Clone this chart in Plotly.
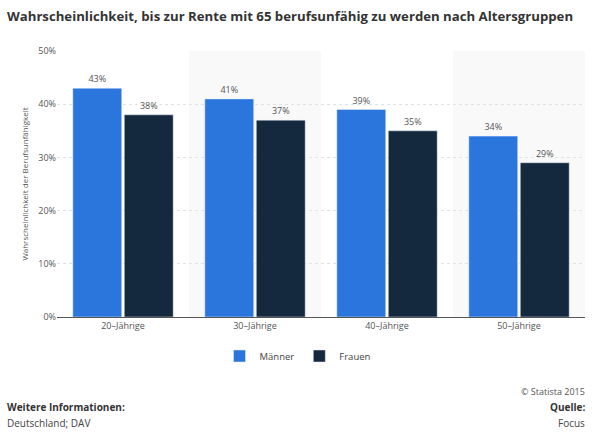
import plotly.graph_objects as go

categories = ["20–Jährige", "30–Jährige", "40–Jährige", "50–Jährige"]
maenner = [43, 41, 39, 34]
frauen = [38, 37, 35, 29]
tick_vals = [0, 10, 20, 30, 40, 50]
tick_text = ["0%", "10%", "20%", "30%", "40%", "50%"]

W, H = 600, 437
L, R, T, B = 57, 15, 51, 120
ph = H - T - B

def py(p):
    return (H - B - p) / ph

def px(p):
    return (p - L) / (W - L - R)

fig = go.Figure()
fig.add_bar(x=categories, y=maenner, name="Männer", marker_color="#2a76dd",
            text=[f"{v}%" for v in maenner], textposition="outside",
            textfont=dict(size=9, color="#555555"), cliponaxis=False)
fig.add_bar(x=categories, y=frauen, name="Frauen", marker_color="#14283e",
            text=[f"{v}%" for v in frauen], textposition="outside",
            textfont=dict(size=9, color="#555555"), cliponaxis=False)

shapes = []
for i in range(len(categories)):
    if i % 2 == 1:
        shapes.append(dict(type="rect", xref="x", yref="paper", x0=i - 0.5, x1=i + 0.5,
                           y0=0, y1=1, fillcolor="#f9f9f9", line_width=0, layer="below"))

ann = [
    dict(text="© Statista 2015", x=px(587), y=py(391), xanchor="right", font=dict(size=9, color="#555555")),
    dict(text="<b>Quelle:</b>", x=px(587), y=py(407), xanchor="right", font=dict(size=10, color="#333333")),
    dict(text="Focus", x=px(587), y=py(423), xanchor="right", font=dict(size=10, color="#444444")),
    dict(text="<b>Weitere Informationen:</b>", x=px(5), y=py(407), xanchor="left", font=dict(size=10, color="#333333")),
    dict(text="Deutschland; DAV", x=px(5), y=py(423), xanchor="left", font=dict(size=10, color="#444444")),
]
for a in ann:
    a.update(xref="paper", yref="paper", showarrow=False, yanchor="middle")

fig.update_layout(
    width=W, height=H,
    margin=dict(l=L, r=R, t=T, b=B, autoexpand=False),
    paper_bgcolor="white", plot_bgcolor="white",
    font=dict(family="Open Sans", color="#555555"),
    title=dict(text="<b>Wahrscheinlichkeit, bis zur Rente mit 65 berufsunfähig zu werden nach Altersgruppen</b>",
               x=7 / W, xanchor="left", y=1 - 16 / H, yanchor="middle",
               font=dict(size=13.2, color="#333333")),
    barmode="group", bargap=0.22, bargroupgap=0.05,
    showlegend=True,
    legend=dict(orientation="h", x=px(298), xanchor="center", y=py(356), yanchor="middle",
                font=dict(size=9.5, color="#444444"), itemwidth=30, traceorder="normal"),
    shapes=shapes,
    annotations=ann,
)
fig.update_xaxes(showgrid=False, showline=True, linecolor="#555555", linewidth=1,
                 tickfont=dict(size=9, color="#555555"), ticks="", automargin=False)
fig.update_yaxes(range=[0, 50], tickvals=tick_vals, ticktext=tick_text,
                 showgrid=True, gridcolor="#e2e2e2", griddash="dot", zeroline=False,
                 tickfont=dict(size=9, color="#555555"), automargin=False,
                 title=dict(text="Wahrscheinlichkeit der Berufsunfähigkeit",
                            font=dict(size=8, color="#555555"), standoff=8))

fig.write_html("out.html", config={"displayModeBar": False},
               post_script="document.body.style.margin='0';")
